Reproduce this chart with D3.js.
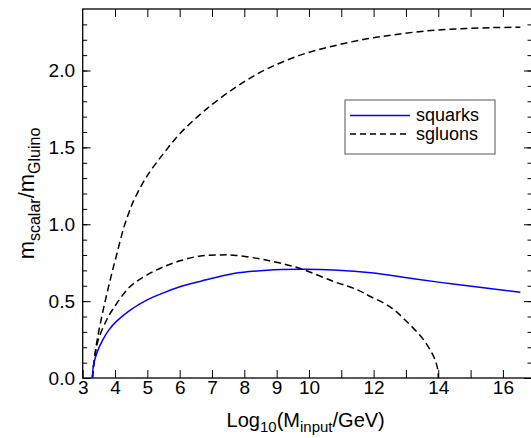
<!DOCTYPE html>
<html>
<head>
<meta charset="utf-8">
<script src="https://cdn.jsdelivr.net/npm/d3@7"></script>
<style>
  body { margin: 0; background: #fff; }
  text { font-family: "Liberation Sans", Arial, sans-serif; fill: #000; }
</style>
</head>
<body>
<script>
// data: x = log10(M_input/GeV), y = m_scalar/m_gluino
var squarkX = [3.30, 3.32, 3.36, 3.45, 3.60, 3.80, 4.05, 4.46, 4.98, 5.50, 6.01, 6.63, 7.67, 8.70, 9.73, 10.76, 12.0, 13.03, 14.06, 15.09, 16.54];
var squarkY = [0.0, 0.062, 0.108, 0.17, 0.24, 0.31, 0.37, 0.44, 0.506, 0.554, 0.593, 0.628, 0.68, 0.701, 0.707, 0.703, 0.683, 0.652, 0.622, 0.595, 0.558];

var sgluonLowX = [3.30, 3.36, 3.48, 3.74, 3.95, 4.46, 4.98, 5.50, 6.01, 6.64, 7.20, 7.67, 8.70, 9.73, 10.76, 11.48, 11.90, 12.51, 13.03, 13.55, 13.86, 13.98, 14.0];
var sgluonLowY = [0.0, 0.12, 0.247, 0.377, 0.453, 0.593, 0.669, 0.723, 0.762, 0.794, 0.80, 0.799, 0.766, 0.712, 0.628, 0.575, 0.53, 0.463, 0.366, 0.247, 0.138, 0.06, 0.0];

var sgluonHighX = [3.30, 3.36, 3.45, 3.59, 3.74, 3.90, 4.06, 4.26, 4.42, 4.57, 4.98, 5.50, 6.01, 6.89, 7.87, 8.70, 9.73, 10.76, 11.79, 12.62, 13.65, 14.68, 15.71, 16.54];
var sgluonHighY = [0.0, 0.12, 0.25, 0.40, 0.54, 0.68, 0.81, 0.97, 1.07, 1.15, 1.31, 1.46, 1.59, 1.76, 1.91, 2.01, 2.10, 2.16, 2.206, 2.232, 2.258, 2.271, 2.279, 2.281];

var xTicks = [3, 4, 5, 6, 7, 8, 9, 10, 11, 12, 13, 14, 15, 16];
var xLabels = [3, 4, 5, 6, 7, 8, 9, 10, 12, 14, 16];
var yMajor = [0, 0.5, 1.0, 1.5, 2.0];

var margin = {top: 9, right: -1, bottom: 60, left: 82.7},
    width = 531 - margin.left - margin.right,
    height = 438 - margin.top - margin.bottom;

var xScale = d3.scaleLinear().domain([3, 16.9]).range([0, width]);
var yScale = d3.scaleLinear().domain([0, 2.4]).range([height, 0]);

var svg = d3.select("body").append("svg")
    .attr("width", 531)
    .attr("height", 438)
    .append("g")
    .attr("transform", "translate(" + margin.left + "," + margin.top + ")");

var zip = function(xs, ys) { return xs.map(function(x, i) { return [x, ys[i]]; }); };
var yMinor = d3.range(0, 24).map(function(i) { return i / 10; });

// bottom axis with labels
svg.append("g")
    .attr("class", "x axis")
    .attr("transform", "translate(0," + height + ")")
    .call(d3.axisBottom(xScale)
      .tickValues(xTicks)
      .tickSizeInner(-8).tickSizeOuter(0).tickPadding(2)
      .tickFormat(function(d) { return xLabels.indexOf(d) >= 0 ? d : ""; }));

// top axis, ticks only
svg.append("g")
    .attr("class", "x axis")
    .call(d3.axisTop(xScale)
      .tickValues(xTicks.slice(1))
      .tickSizeInner(-8).tickSizeOuter(0)
      .tickFormat(""));

// left axis, major + minor
svg.append("g")
    .attr("class", "y axis")
    .call(d3.axisLeft(yScale)
      .tickValues(yMinor)
      .tickSizeInner(-4.5).tickSizeOuter(0)
      .tickFormat(""));
svg.append("g")
    .attr("class", "y axis")
    .call(d3.axisLeft(yScale)
      .tickValues(yMajor)
      .tickSizeInner(-8).tickSizeOuter(0).tickPadding(7.7)
      .tickFormat(d3.format(".1f")));

// right axis
svg.append("g")
    .attr("class", "y axis")
    .attr("transform", "translate(" + width + ",0)")
    .call(d3.axisRight(yScale)
      .tickValues(yMinor)
      .tickSizeInner(-4.5).tickSizeOuter(0)
      .tickFormat(""));
svg.append("g")
    .attr("class", "y axis")
    .attr("transform", "translate(" + width + ",0)")
    .call(d3.axisRight(yScale)
      .tickValues(yMajor)
      .tickSizeInner(-8).tickSizeOuter(0)
      .tickFormat(""));

svg.selectAll(".axis path.domain").remove();
svg.selectAll(".axis line").attr("stroke", "#000").attr("stroke-width", 1);
svg.selectAll(".axis text")
    .style("font-family", '"Liberation Sans", Arial, sans-serif')
    .style("font-size", "19px")
    .attr("fill", "#000");

// frame
svg.append("rect")
    .attr("width", width)
    .attr("height", height)
    .attr("fill", "none")
    .attr("stroke", "#000")
    .attr("stroke-width", 1.3);

var line = d3.line()
    .x(function(d) { return xScale(d[0]); })
    .y(function(d) { return yScale(d[1]); })
    .curve(d3.curveCatmullRom.alpha(0.5));

svg.append("path")
    .attr("d", line(zip(sgluonHighX, sgluonHighY)))
    .attr("fill", "none").attr("stroke", "#000")
    .attr("stroke-width", 1.5).attr("stroke-dasharray", "7,4");

svg.append("path")
    .attr("d", line(zip(sgluonLowX, sgluonLowY)))
    .attr("fill", "none").attr("stroke", "#000")
    .attr("stroke-width", 1.5).attr("stroke-dasharray", "7,4");

svg.append("path")
    .attr("d", line(zip(squarkX, squarkY)))
    .attr("fill", "none").attr("stroke", "#0000ff")
    .attr("stroke-width", 1.5);

// legend
var legend = d3.select("svg").append("g");
legend.append("rect")
    .attr("x", 345).attr("y", 100)
    .attr("width", 150).attr("height", 54)
    .attr("fill", "#fff").attr("stroke", "#555").attr("stroke-width", 1);
var items = [
  {name: "squarks", color: "#0000ff", dash: null, y: 115.5},
  {name: "sgluons", color: "#000", dash: "6,4", y: 134}
];
items.forEach(function(it) {
  legend.append("line")
      .attr("x1", 350).attr("x2", 410)
      .attr("y1", it.y).attr("y2", it.y)
      .attr("stroke", it.color).attr("stroke-width", 1.5)
      .attr("stroke-dasharray", it.dash);
  legend.append("text")
      .attr("x", 416).attr("y", it.y + 5.5)
      .style("font-size", "18px")
      .text(it.name);
});

// axis titles
var xt = d3.select("svg").append("text")
    .attr("x", 305.7).attr("y", 426.5)
    .attr("text-anchor", "middle")
    .style("font-size", "20px");
xt.append("tspan").text("Log");
xt.append("tspan").attr("dy", 5).style("font-size", "15px").text("10");
xt.append("tspan").attr("dy", -5).text("(M");
xt.append("tspan").attr("dy", 5).style("font-size", "15px").text("input");
xt.append("tspan").attr("dy", -5).text("/GeV)");

var yt = d3.select("svg").append("text")
    .attr("transform", "translate(34,193.5) rotate(-90)")
    .attr("text-anchor", "middle")
    .style("font-size", "22px");
yt.append("tspan").text("m");
yt.append("tspan").attr("dy", 6).style("font-size", "16px").text("scalar");
yt.append("tspan").attr("dy", -6).text("/m");
yt.append("tspan").attr("dy", 6).style("font-size", "16px").text("Gluino");
</script>
</body>
</html>
